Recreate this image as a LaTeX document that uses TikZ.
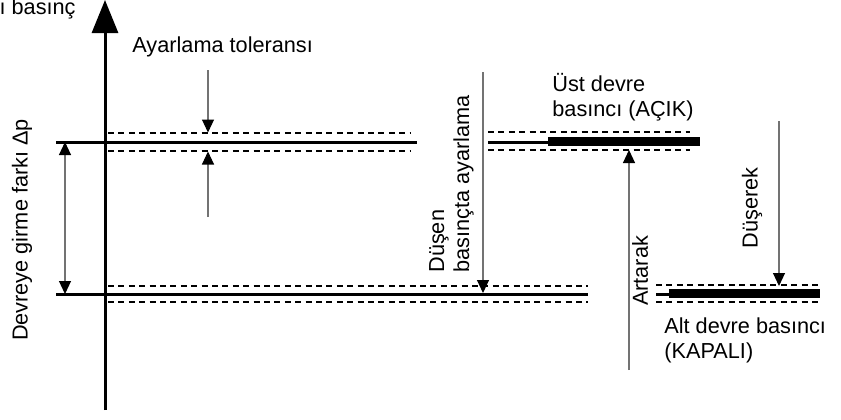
\documentclass[tikz,border=0pt]{standalone}
\usepackage{fontspec}
\setmainfont{Liberation Sans}
\usetikzlibrary{arrows.meta}

\begin{document}
\begin{tikzpicture}[x=0.5pt,y=-0.5pt,>={Triangle[length=6.5pt,width=6pt,color=black]},
  lbl/.style = {font=\fontsize{10.85}{12.5}\selectfont, inner sep=0pt, align=left},
  lvl/.style = {line width=1.5pt},
  bar/.style = {line width=4.5pt},
  tolline/.style = {dash pattern=on 3pt off 2.2pt, line width=0.9pt},
  arr/.style = {->, draw=black!55, line width=0.55pt}]
\useasboundingbox (0,0) rectangle (841,419);
% axis
\coordinate (o) at (105,410);
\coordinate (top) at (105,0);
\draw[line width=1.5pt, -{Triangle[length=16.5pt,width=13pt]}] (o) -- (top);
\node[lbl, anchor=base east] (yname) at (76,14) {farkı basınç};
% upper switching point
\draw[lvl] (56,142) -- (417,142);
\draw[tolline] (108,133) -- (410,133);
\draw[tolline] (108,151) -- (410,151);
\draw[lvl] (488,142) -- (548,142);
\draw[bar] (548,141.5) -- (700,141.5);
\draw[tolline] (488,132) -- (690,132);
\draw[tolline] (488,150) -- (690,150);
% lower switching point
\draw[lvl] (56,294) -- (588,294);
\draw[tolline] (108,286) -- (588,286);
\draw[tolline] (108,302) -- (588,302);
\draw[lvl] (656,294) -- (669,294);
\draw[bar] (669,293.5) -- (820,293.5);
\draw[tolline] (656,285) -- (820,285);
\draw[tolline] (656,302) -- (820,302);
% labels
\node[lbl, anchor=base west] (tol) at (132,52) {Ayarlama toleransı};
\node[lbl, rotate=90] (dp) at (22,230) {Devreye girme farkı Δp};
\node[lbl, rotate=90, anchor=south west] (dusen) at (474,273) {Düşen\\basınçta ayarlama};
\node[lbl, rotate=90] (artarak) at (640,271) {Artarak};
\node[lbl, rotate=90] (duserek) at (752,208) {Düşerek};
\node[lbl, anchor=north west] (ust) at (552,73) {Üst devre\\basıncı (AÇIK)};
\node[lbl, anchor=north west] (alt) at (664,317) {Alt devre basıncı\\(KAPALI)};
% arrow ends
\coordinate (tolA) at (208,70);
\coordinate (tolB) at (208,132.5);
\coordinate (tolC) at (208,217);
\coordinate (tolD) at (208,151.5);
\coordinate (dpA) at (65,142);
\coordinate (dpB) at (65,294);
\coordinate (setA) at (483,72);
\coordinate (setB) at (483,293);
\coordinate (upA) at (629,370);
\coordinate (upB) at (629,150);
\coordinate (downA) at (779,121);
\coordinate (downB) at (779,286);
\draw[arr] (tolA) -- (tolB);
\draw[arr] (tolC) -- (tolD);
\draw[arr, <->] (dpA) -- (dpB);
\draw[arr] (setA) -- (setB);
\draw[arr] (upA) -- (upB);
\draw[arr] (downA) -- (downB);
\end{tikzpicture}
\end{document}
